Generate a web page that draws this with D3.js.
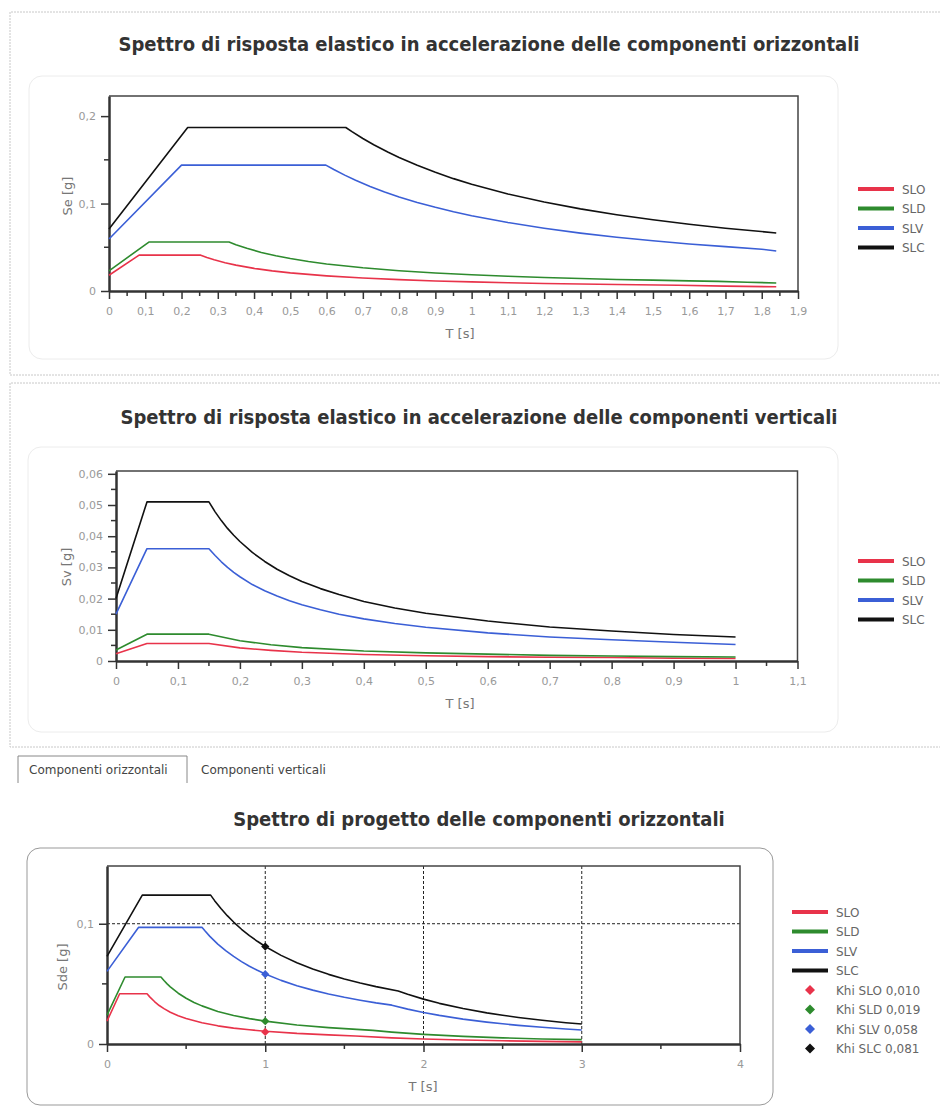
<!DOCTYPE html>
<html>
<head>
<meta charset="utf-8">
<script src="https://cdn.jsdelivr.net/npm/d3@7"></script>
<style>
  body { margin: 0; background: #fff; }
  svg { display: block; font-family: "DejaVu Sans", Verdana, sans-serif; }
</style>
</head>
<body>
<div id="chart"></div>
<script>

// series shared by all three charts
var seriesNames = ['SLO', 'SLD', 'SLV', 'SLC']
var seriesColors = ['#e8334a', '#2e8b2e', '#3b5fd6', '#111111']

// elastic spectrum, horizontal components  [T (s), Se (g)]
var hSLO = [[0,0.018],[0.083,0.041],[0.253,0.041],[0.27,0.0384],[0.29,0.0358],[0.32,0.0324],[0.35,0.0296],[0.4,0.0259],[0.45,0.023],[0.5,0.0207],[0.6,0.0173],[0.7,0.0148],[0.8,0.013],[0.9,0.0115],[1.0,0.0104],[1.1,0.0094],[1.2,0.0086],[1.3,0.008],[1.4,0.0074],[1.57,0.0066],[1.7,0.0056],[1.84,0.0048]]
var hSLD = [[0,0.023],[0.11,0.056],[0.331,0.056],[0.35,0.053],[0.38,0.0488],[0.42,0.0441],[0.46,0.0403],[0.5,0.0371],[0.55,0.0337],[0.6,0.0309],[0.7,0.0265],[0.8,0.0232],[0.9,0.0206],[1.0,0.0185],[1.1,0.0169],[1.2,0.0154],[1.3,0.0143],[1.4,0.0132],[1.5,0.0124],[1.6,0.0116],[1.68,0.011],[1.76,0.01],[1.84,0.0092]]
var hSLV = [[0,0.0594],[0.2,0.144],[0.598,0.144],[0.62,0.1389],[0.65,0.1325],[0.68,0.1266],[0.72,0.1196],[0.76,0.1133],[0.8,0.1076],[0.85,0.1013],[0.9,0.0957],[0.95,0.0906],[1.0,0.0861],[1.1,0.0783],[1.2,0.0718],[1.3,0.0662],[1.4,0.0615],[1.5,0.0574],[1.6,0.0538],[1.7,0.0507],[1.8,0.0478],[1.84,0.0458]]
var hSLC = [[0,0.071],[0.217,0.187],[0.653,0.187],[0.67,0.1823],[0.7,0.1744],[0.73,0.1673],[0.77,0.1586],[0.8,0.1526],[0.85,0.1437],[0.9,0.1357],[0.95,0.1285],[1.0,0.1221],[1.1,0.111],[1.2,0.1018],[1.3,0.0939],[1.4,0.0872],[1.5,0.0814],[1.6,0.0763],[1.7,0.0718],[1.84,0.0664]]

// elastic spectrum, vertical components  [T (s), Sv (g)]
var vSLO = [[0,0.0023],[0.05,0.0056],[0.15,0.0056],[0.2,0.0042],[0.25,0.0034],[0.3,0.0028],[0.4,0.0021],[0.5,0.0017],[0.6,0.0014],[0.7,0.0012],[0.8,0.0011],[0.9,0.0009],[1.0,0.0008]]
var vSLD = [[0,0.0035],[0.05,0.0086],[0.15,0.0086],[0.2,0.0065],[0.25,0.0052],[0.3,0.0043],[0.4,0.0032],[0.5,0.0026],[0.6,0.0022],[0.7,0.0018],[0.8,0.0016],[0.9,0.0014],[1.0,0.0013]]
var vSLV = [[0,0.015],[0.05,0.036],[0.15,0.036],[0.16,0.0338],[0.17,0.0318],[0.18,0.03],[0.19,0.0284],[0.2,0.027],[0.22,0.0245],[0.24,0.0225],[0.26,0.0208],[0.28,0.0193],[0.3,0.018],[0.33,0.0164],[0.36,0.015],[0.4,0.0135],[0.45,0.012],[0.5,0.0108],[0.6,0.009],[0.7,0.0077],[0.8,0.0068],[0.9,0.006],[1.0,0.0053]]
var vSLC = [[0,0.02],[0.05,0.051],[0.15,0.051],[0.16,0.0478],[0.17,0.045],[0.18,0.0425],[0.19,0.0403],[0.2,0.0383],[0.22,0.0348],[0.24,0.0319],[0.26,0.0294],[0.28,0.0273],[0.3,0.0255],[0.33,0.0232],[0.36,0.0213],[0.4,0.0191],[0.45,0.017],[0.5,0.0153],[0.6,0.0128],[0.7,0.0109],[0.8,0.0096],[0.9,0.0085],[1.0,0.0077]]

// design spectrum, horizontal components  [T (s), Sde (g)]
var dSLO = [[0,0.019],[0.08,0.0418],[0.253,0.0418],[0.27,0.0392],[0.3,0.0353],[0.33,0.032],[0.36,0.0294],[0.4,0.0264],[0.45,0.0235],[0.5,0.0212],[0.6,0.0176],[0.7,0.0151],[0.8,0.0132],[0.9,0.0118],[1.0,0.0106],[1.2,0.0088],[1.4,0.0076],[1.57,0.0067],[1.8,0.0051],[2.0,0.0042],[2.25,0.0033],[2.5,0.0027],[2.75,0.0022],[3.0,0.0018]]
var dSLD = [[0,0.024],[0.114,0.0557],[0.341,0.0557],[0.36,0.0528],[0.38,0.05],[0.4,0.0475],[0.45,0.0422],[0.5,0.038],[0.55,0.0345],[0.6,0.0317],[0.7,0.0271],[0.8,0.0237],[0.9,0.0211],[1.0,0.019],[1.2,0.0158],[1.4,0.0136],[1.68,0.0113],[1.8,0.0099],[2.0,0.008],[2.25,0.0063],[2.5,0.0051],[2.75,0.0042],[3.0,0.0036]]
var dSLV = [[0,0.0604],[0.2,0.097],[0.6,0.097],[0.62,0.0939],[0.65,0.0895],[0.7,0.0831],[0.75,0.0776],[0.8,0.0728],[0.85,0.0685],[0.9,0.0647],[0.95,0.0613],[1.0,0.0582],[1.1,0.0529],[1.2,0.0485],[1.3,0.0448],[1.4,0.0416],[1.5,0.0388],[1.6,0.0364],[1.7,0.0342],[1.8,0.0323],[1.9,0.029],[2.0,0.0262],[2.1,0.0238],[2.25,0.0207],[2.4,0.0182],[2.5,0.0168],[2.6,0.0155],[2.75,0.0139],[2.9,0.0125],[3.0,0.0116]]
var dSLC = [[0,0.0728],[0.223,0.1238],[0.655,0.1238],[0.68,0.1192],[0.72,0.1126],[0.76,0.1067],[0.8,0.1014],[0.85,0.0954],[0.9,0.0901],[0.95,0.0854],[1.0,0.0811],[1.1,0.0737],[1.2,0.0676],[1.3,0.0624],[1.4,0.0579],[1.5,0.0541],[1.6,0.0507],[1.7,0.0477],[1.84,0.0441],[1.9,0.0413],[2.0,0.0373],[2.1,0.0338],[2.25,0.0295],[2.4,0.0259],[2.5,0.0239],[2.6,0.0221],[2.75,0.0197],[2.9,0.0177],[3.0,0.0166]]

// Khi points on the design spectrum
var khiT = 1
var khiValues = [0.010, 0.019, 0.058, 0.081]
var khiLabels = ['Khi SLO 0,010', 'Khi SLD 0,019', 'Khi SLV 0,058', 'Khi SLC 0,081']

// tick values
var hXTicks = d3.range(0, 20).map(function(i) { return i / 10 })
var hYTicks = [0, 0.1, 0.2]
var vXTicks = d3.range(0, 12).map(function(i) { return i / 10 })
var vYTicks = [0, 0.01, 0.02, 0.03, 0.04, 0.05, 0.06]
var dXTicks = [0, 1, 2, 3, 4]
var dYTicks = [0, 0.1]


var it = d3.formatLocale({decimal: ',', thousands: '.', grouping: [3], currency: ['', '€']})
var fmt = it.format('~g')

var svg = d3.select('#chart')
    .append('svg')
        .attr('width', 940)
        .attr('height', 1108)

// outer dashed frames of the two upper panels
function frame(y0, y1) {
    svg.append('path')
        .attr('d', 'M940,' + y0 + 'H10V' + y1 + 'H940')
        .attr('fill', 'none')
        .attr('stroke', '#c8c8c8')
        .attr('stroke-dasharray', '2,1')
}
frame(12, 375)
frame(383, 747)

function title(text, cx, y) {
    svg.append('text')
        .attr('x', cx)
        .attr('y', y)
        .attr('text-anchor', 'middle')
        .style('font-family', '"DejaVu Sans Condensed", "DejaVu Sans", sans-serif')
        .style('font-stretch', 'condensed')
        .style('font-size', '20px')
        .style('font-weight', 'bold')
        .style('fill', '#333')
        .text(text)
}

function diamond(size) {
    return d3.symbol().type(d3.symbolSquare).size(size)
}

function drawChart(cfg) {
    // rounded box behind the chart
    svg.append('rect')
        .attr('x', cfg.box[0]).attr('y', cfg.box[1])
        .attr('width', cfg.box[2]).attr('height', cfg.box[3])
        .attr('rx', 13)
        .attr('fill', 'none')
        .attr('stroke', cfg.boxStroke)

    var x = d3.scaleLinear().domain(cfg.xDomain).range([cfg.left, cfg.right])
    var y = d3.scaleLinear().domain(cfg.yDomain).range([cfg.bottom, cfg.top])

    var g = svg.append('g')

    // grid (only on the design chart)
    if (cfg.grid) {
        g.selectAll('.gx').data(cfg.grid.x).enter().append('line')
            .attr('x1', function(d) { return x(d) }).attr('x2', function(d) { return x(d) })
            .attr('y1', cfg.top).attr('y2', cfg.bottom)
            .attr('stroke', '#222').attr('stroke-dasharray', '3,2')
        g.selectAll('.gy').data(cfg.grid.y).enter().append('line')
            .attr('x1', cfg.left).attr('x2', cfg.right)
            .attr('y1', function(d) { return y(d) }).attr('y2', function(d) { return y(d) })
            .attr('stroke', '#222').attr('stroke-dasharray', '3,2')
    }

    // top and right border of the plot
    g.append('path')
        .attr('d', 'M' + cfg.left + ',' + cfg.top + 'H' + cfg.right + 'V' + cfg.bottom)
        .attr('fill', 'none')
        .attr('stroke', '#444')
        .attr('stroke-width', 1.5)

    // minor ticks
    g.selectAll('.mx').data(cfg.xMinor).enter().append('line')
        .attr('x1', function(d) { return x(d) }).attr('x2', function(d) { return x(d) })
        .attr('y1', cfg.bottom).attr('y2', cfg.bottom + 5)
        .attr('stroke', '#333').attr('stroke-width', 1.5)
    g.selectAll('.my').data(cfg.yMinor).enter().append('line')
        .attr('x1', cfg.left - 5).attr('x2', cfg.left)
        .attr('y1', function(d) { return y(d) }).attr('y2', function(d) { return y(d) })
        .attr('stroke', '#333').attr('stroke-width', 1.5)

    var xAxis = g.append('g')
        .attr('transform', 'translate(0,' + cfg.bottom + ')')
        .call(d3.axisBottom(x).tickValues(cfg.xTicks).tickFormat(fmt).tickSize(8).tickPadding(8).tickSizeOuter(0))
    var yAxis = g.append('g')
        .attr('transform', 'translate(' + cfg.left + ',0)')
        .call(d3.axisLeft(y).tickValues(cfg.yTicks).tickFormat(fmt).tickSize(8).tickPadding(5).tickSizeOuter(0))

    ;[xAxis, yAxis].forEach(function(a) {
        a.select('.domain').attr('stroke', '#333').attr('stroke-width', 2.5)
        a.selectAll('.tick line').attr('stroke', '#333').attr('stroke-width', 1.5)
        a.selectAll('.tick text').style('fill', '#999').style('font-size', '11px')
            .style('font-family', '"DejaVu Sans", sans-serif')
    })

    // curves
    var line = d3.line()
        .x(function(d) { return x(d[0]) })
        .y(function(d) { return y(d[1]) })
    cfg.series.forEach(function(s, i) {
        g.append('path')
            .datum(s)
            .attr('d', line)
            .attr('fill', 'none')
            .attr('stroke', seriesColors[i])
            .attr('stroke-width', 1.6)
            .attr('stroke-linejoin', 'round')
    })

    // khi markers
    if (cfg.khi) {
        g.selectAll('.khi').data(khiValues).enter().append('path')
            .attr('d', diamond(34))
            .attr('transform', function(d) { return 'translate(' + x(khiT) + ',' + y(d) + ') rotate(45)' })
            .attr('fill', function(d, i) { return seriesColors[i] })
    }

    // axis titles
    svg.append('text')
        .attr('transform', 'translate(' + cfg.yTitle[0] + ',' + cfg.yTitle[1] + ') rotate(-90)')
        .attr('text-anchor', 'middle')
        .style('font-size', '13px').style('fill', '#777')
        .text(cfg.yLabel)
    svg.append('text')
        .attr('x', cfg.xTitle[0]).attr('y', cfg.xTitle[1])
        .attr('text-anchor', 'middle')
        .style('font-size', '13px').style('fill', '#777')
        .text('T [s]')

    // legend
    var leg = svg.append('g')
    var rowH = 19.5
    seriesNames.forEach(function(name, i) {
        var yy = cfg.legend[1] + i * rowH
        leg.append('line')
            .attr('x1', cfg.legend[0]).attr('x2', cfg.legend[0] + 36)
            .attr('y1', yy).attr('y2', yy)
            .attr('stroke', seriesColors[i]).attr('stroke-width', 4)
        leg.append('text')
            .attr('x', cfg.legend[0] + 44).attr('y', yy + 4.5)
            .style('font-size', '12px').style('fill', '#666')
            .text(name)
    })
    if (cfg.khi) {
        khiLabels.forEach(function(name, i) {
            var yy = cfg.legend[1] + (i + 4) * rowH
            leg.append('path')
                .attr('d', diamond(50))
                .attr('transform', 'translate(' + (cfg.legend[0] + 18) + ',' + yy + ') rotate(45)')
                .attr('fill', seriesColors[i])
            leg.append('text')
                .attr('x', cfg.legend[0] + 44).attr('y', yy + 4.5)
                .style('font-size', '12px').style('fill', '#666')
                .text(name)
        })
    }
}

title('Spettro di risposta elastico in accelerazione delle componenti orizzontali', 489, 51)
drawChart({
    box: [29, 76, 809, 283], boxStroke: '#ececec',
    left: 109, right: 798, top: 96, bottom: 291,
    xDomain: [0, 1.9], yDomain: [0, 0.223],
    xTicks: hXTicks, yTicks: hYTicks,
    xMinor: d3.range(0, 19).map(function(i) { return i / 10 + 0.05 }),
    yMinor: [0.05, 0.15],
    series: [hSLO, hSLD, hSLV, hSLC],
    yLabel: 'Se [g]', yTitle: [72, 196], xTitle: [460, 338],
    legend: [858, 189]
})

title('Spettro di risposta elastico in accelerazione delle componenti verticali', 479, 424)
drawChart({
    box: [28, 447, 810, 285], boxStroke: '#ececec',
    left: 116, right: 797.5, top: 471, bottom: 661,
    xDomain: [0, 1.1], yDomain: [0, 0.0609],
    xTicks: vXTicks, yTicks: vYTicks,
    xMinor: d3.range(0, 11).map(function(i) { return i / 10 + 0.05 }),
    yMinor: d3.range(0, 6).map(function(i) { return i / 100 + 0.005 }),
    series: [vSLO, vSLD, vSLV, vSLC],
    yLabel: 'Sv [g]', yTitle: [71, 567], xTitle: [460, 708],
    legend: [858, 561]
})

// tabs
svg.append('path')
    .attr('d', 'M18,783V756H187V783')
    .attr('fill', 'none')
    .attr('stroke', '#888')
svg.append('text')
    .attr('x', 29).attr('y', 774)
    .style('font-size', '12px').style('fill', '#444')
    .text('Componenti orizzontali')
svg.append('text')
    .attr('x', 201).attr('y', 774)
    .style('font-size', '12px').style('fill', '#444')
    .text('Componenti verticali')

title('Spettro di progetto delle componenti orizzontali', 479, 826)
drawChart({
    box: [27, 848, 746, 257], boxStroke: '#999',
    left: 107, right: 740, top: 866, bottom: 1044,
    xDomain: [0, 4], yDomain: [0, 0.148],
    xTicks: dXTicks, yTicks: dYTicks,
    xMinor: [0.5, 1.5, 2.5, 3.5],
    yMinor: [0.05],
    grid: {x: [1, 2, 3], y: [0.1]},
    series: [dSLO, dSLD, dSLV, dSLC],
    khi: true,
    yLabel: 'Sde [g]', yTitle: [67, 967], xTitle: [423, 1091],
    legend: [792, 912]
})

</script>
</body>
</html>
